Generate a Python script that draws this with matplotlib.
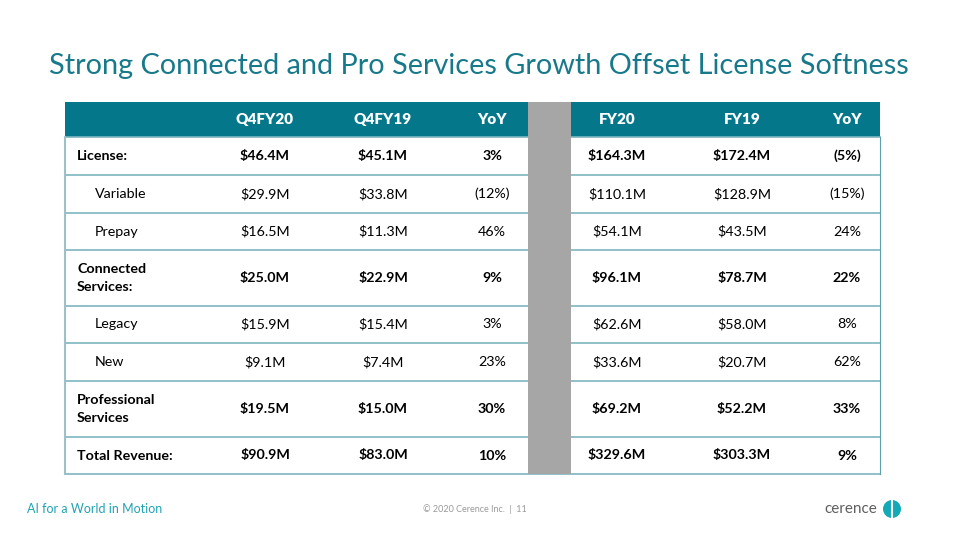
import matplotlib.pyplot as plt
from matplotlib.patches import Rectangle, Circle

plt.rcParams['font.family'] = ['Lato', 'DejaVu Sans']

# table content
col_headers = ["Q4FY20", "Q4FY19", "YoY", "FY20", "FY19", "YoY"]
row_labels = ["License:", "Variable", "Prepay", "Connected\nServices:", "Legacy", "New",
              "Professional\nServices", "Total Revenue:"]
q4fy20 = ["$46.4M", "$29.9M", "$16.5M", "$25.0M", "$15.9M", "$9.1M", "$19.5M", "$90.9M"]
q4fy19 = ["$45.1M", "$33.8M", "$11.3M", "$22.9M", "$15.4M", "$7.4M", "$15.0M", "$83.0M"]
yoy_q = ["3%", "(12%)", "46%", "9%", "3%", "23%", "30%", "10%"]
fy20 = ["$164.3M", "$110.1M", "$54.1M", "$96.1M", "$62.6M", "$33.6M", "$69.2M", "$329.6M"]
fy19 = ["$172.4M", "$128.9M", "$43.5M", "$78.7M", "$58.0M", "$20.7M", "$52.2M", "$303.3M"]
yoy_fy = ["(5%)", "(15%)", "24%", "22%", "8%", "62%", "33%", "9%"]
is_total = [True, False, False, True, False, False, True, True]

teal = "#04788A"
title_col = "#18798A"
line_col = "#7DB5BF"

fig = plt.figure(figsize=(9.6, 5.4), dpi=100)
ax = fig.add_axes([0, 0, 1, 1])
ax.set_xlim(0, 960)
ax.set_ylim(540, 0)
ax.axis("off")

# title
ax.text(479, 66, "Strong Connected and Pro Services Growth Offset License Softness",
        ha="center", va="center", fontsize=20.8, color=title_col)

# grid geometry (pixels)
left, right = 65, 880
gap_l, gap_r = 528, 571
row_edges = [102, 137, 175, 213, 250, 306, 343, 381, 437, 474]
col_x = [265, 383, 492, 617, 742, 847]

ax.add_patch(Rectangle((left, row_edges[0]), right - left, row_edges[1] - row_edges[0],
                       color=teal, lw=0))
ax.add_patch(Rectangle((gap_l, row_edges[0]), gap_r - gap_l, row_edges[-1] - row_edges[0],
                       color="#A6A6A6", lw=0, zorder=3))

for y in row_edges[1:]:
    ax.plot([left, right], [y, y], color=line_col, lw=1.2)
ax.plot([left, left], [row_edges[1], row_edges[-1]], color="#9FC0C6", lw=1.5)
ax.plot([right, right], [row_edges[1], row_edges[-1]], color="#5E9FAA", lw=0.8)

hy = (row_edges[0] + row_edges[1]) / 2
for x, h in zip(col_x, col_headers):
    ax.text(x, hy, h, ha="center", va="center", color="white",
            fontsize=11, fontweight="heavy")

for i, lab in enumerate(row_labels):
    cy = (row_edges[i + 1] + row_edges[i + 2]) / 2
    w = "bold" if is_total[i] else "normal"
    lx = 77 if is_total[i] else 95
    ax.text(lx, cy, lab, ha="left", va="center", fontsize=10.3, fontweight=w,
            color="black", linespacing=1.55)
    vals = [q4fy20[i], q4fy19[i], yoy_q[i], fy20[i], fy19[i], yoy_fy[i]]
    for x, v in zip(col_x, vals):
        ax.text(x, cy, v, ha="center", va="center", fontsize=10.3, fontweight=w,
                color="black")

# footer
ax.text(27, 509, "AI for a World in Motion", ha="left", va="center",
        fontsize=9, color="#22A3B3")
ax.text(475, 509, "\u00a9 2020 Cerence Inc.  |  11", ha="center", va="center",
        fontsize=6.5, color="#9A9A9A")
ax.text(877, 509, "cerence", ha="right", va="center", fontsize=11,
        color="#5F5F5F")
ax.add_patch(Circle((892, 509), 9, color="#14A9B6", lw=0))
ax.plot([892, 892], [501, 517], color="white", lw=1.5)

fig.savefig("out.png", dpi=100)
